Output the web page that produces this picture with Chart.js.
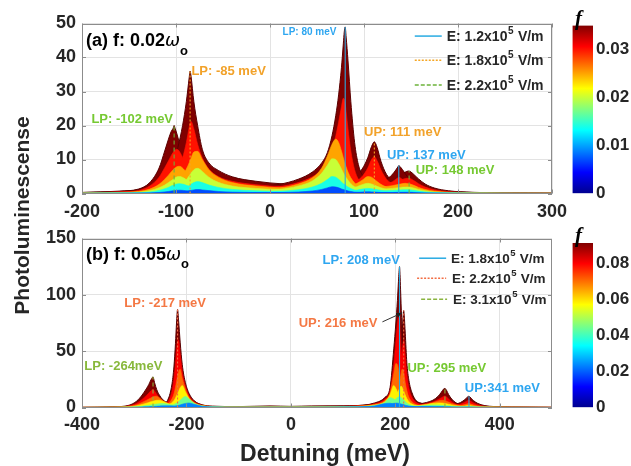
<!DOCTYPE html>
<html>
<head>
<meta charset="utf-8">
<script src="https://cdn.jsdelivr.net/npm/chart.js@4.4.1/dist/chart.umd.min.js"></script>
<style>
  html, body { margin: 0; padding: 0; background: #fff; }
  #fig { position: relative; width: 631px; height: 466px; overflow: hidden; }
  #fig canvas { position: absolute; left: 0; top: 0; }
</style>
</head>
<body>
<div id="fig">
  <canvas id="panelA" width="631" height="466"></canvas>
  <canvas id="panelB" width="631" height="466"></canvas>
  <canvas id="cbarA" width="631" height="466"></canvas>
  <canvas id="cbarB" width="631" height="466"></canvas>
</div>
<script>
// ================= data: panel (a), f = 0.02 w0 =================
const fLevelsA = [0.035, 0.030, 0.025, 0.020, 0.014, 0.007];   // one PL curve per coupling f
const fMaxA = 0.035;
const xTicksA = [-200, -100, 0, 100, 200, 300];
const yTicksA = [0, 10, 20, 30, 40, 50];
const cbarTicksA = [0, 0.01, 0.02, 0.03];
const fieldsA = ['1.2', '1.8', '2.2'];
const peaksA12 = [80, 137];
const peaksA18 = [-85, 111];
const peaksA22 = [-102, 148];

// E = 1.2x10^5 V/m
const detA12 = [-200,-120,-60,-20,10,30,45,55,61,66,70,73,76,78,79,80,81,83,86,90,94,98,103,110,120,128,133,136,137,138,141,146,152,160,175,200,250,300];
const plA12 = [
  [0.2,0.5,1.0,1.7,2.7,4.2,6.3,9.0,12,17,23,29,37,44,47.5,49,46,39,27,15,8.5,5.5,4.0,3.4,3.9,5.0,6.6,7.8,8.2,8.0,7.0,5.0,3.3,2.0,0.95,0.4,0.15,0.06],
  [0.15,0.35,0.7,1.2,2.0,3.2,4.9,7.0,9.5,13,17,21,25.5,28,27.8,26.5,24,19,12.5,7.0,4.2,3.0,2.4,2.1,2.4,3.1,4.0,4.6,4.8,4.7,4.1,3.0,2.0,1.2,0.6,0.25,0.1,0.04],
  [0.1,0.25,0.5,0.9,1.6,2.8,4.6,7.5,11,14.5,16,15,12.5,10.5,9.5,8.6,7.8,6.3,4.6,3.1,2.2,1.7,1.3,1.1,1.2,1.5,1.9,2.2,2.3,2.3,2.1,1.6,1.1,0.7,0.35,0.15,0.05,0.02],
  [0.07,0.17,0.35,0.65,1.2,2.2,3.7,6.0,8.3,10.2,10,8.8,7.2,6.1,5.6,5.1,4.7,3.9,2.9,2.0,1.5,1.1,0.85,0.7,0.75,0.95,1.2,1.35,1.4,1.4,1.3,1.0,0.7,0.45,0.22,0.1,0.04,0.02],
  [0.04,0.1,0.2,0.35,0.65,1.1,1.9,3.0,4.1,5.0,4.8,4.2,3.4,2.9,2.7,2.5,2.3,1.9,1.45,1.0,0.75,0.57,0.44,0.36,0.38,0.47,0.6,0.67,0.7,0.7,0.65,0.5,0.35,0.22,0.11,0.05,0.02,0.01],
  [0.015,0.04,0.08,0.14,0.26,0.45,0.75,1.2,1.65,2.0,1.9,1.7,1.35,1.15,1.08,1.0,0.92,0.76,0.58,0.4,0.3,0.23,0.18,0.14,0.15,0.19,0.24,0.27,0.28,0.28,0.26,0.2,0.14,0.09,0.04,0.02,0.01,0]
];

// E = 1.8x10^5 V/m
const detA18 = [-200,-150,-125,-112,-104,-98,-93,-89,-86,-85,-84,-81,-77,-72,-65,-55,-40,-15,15,45,70,88,98,104,108,111,114,118,124,132,145,165,200,300];
const plA18 = [
  [0.3,0.8,1.8,4.0,7.5,13.5,20,27,34,36,34.5,27,20,13,9,6.8,4.9,3.6,2.8,2.6,3.0,4.5,7.2,10.5,13.8,15.2,13.5,9.5,5.6,3.4,1.9,0.9,0.4,0.1],
  [0.2,0.5,1.1,2.2,4.0,6.8,10.5,15,19.5,20.8,21.2,19,14.5,10.5,7.2,5.0,3.6,2.6,2.0,1.9,2.1,3.1,5.0,7.5,10,10.8,9.6,7.0,4.2,2.6,1.4,0.65,0.3,0.07],
  [0.1,0.3,0.7,1.3,2.2,3.5,5.2,7.2,9.0,9.7,10.4,12.2,12.4,10,7,4.8,3.2,2.2,1.6,1.4,1.6,2.4,3.9,5.0,4.8,4.2,3.5,2.7,1.9,1.3,0.8,0.4,0.2,0.05],
  [0.1,0.2,0.4,0.8,1.3,2.0,2.9,4.0,5.2,5.6,6.0,7.0,7.4,6.5,4.8,3.3,2.2,1.5,1.1,1.0,1.1,1.6,2.6,3.0,2.8,2.5,2.1,1.7,1.2,0.8,0.5,0.3,0.1,0.03],
  [0.05,0.1,0.2,0.4,0.6,0.9,1.3,1.8,2.3,2.5,2.7,3.2,3.5,3.2,2.5,1.8,1.2,0.8,0.6,0.5,0.6,0.8,1.3,1.5,1.4,1.3,1.1,0.9,0.6,0.4,0.3,0.15,0.05,0.02],
  [0.02,0.04,0.07,0.13,0.2,0.3,0.45,0.6,0.8,0.85,0.9,1.05,1.15,1.05,0.85,0.6,0.4,0.27,0.2,0.17,0.2,0.27,0.43,0.5,0.47,0.43,0.37,0.3,0.2,0.14,0.1,0.05,0.02,0.01]
];

// E = 2.2x10^5 V/m
const detA22 = [-200,-160,-140,-128,-118,-112,-108,-105,-103,-102,-101,-99,-96,-92,-87,-80,-70,-55,-30,0,30,60,90,115,130,139,144,147,148,150,153,158,165,175,190,215,260,300];
const plA22 = [
  [0.3,0.7,1.3,3.2,7.5,12.5,16,18.3,19.2,20,19.2,17.5,14.5,11,8.2,5.9,4.4,3.2,2.5,2.2,2.2,2.4,2.9,3.8,4.8,5.7,6.3,6.6,6.6,6.3,5.6,4.3,2.8,1.6,0.8,0.35,0.12,0.06],
  [0.2,0.5,0.9,2.2,4.8,7.6,9.6,11.2,12.1,12.5,12.8,13.0,12.2,10,7.5,5.2,3.6,2.5,1.8,1.5,1.5,1.6,2.0,2.6,3.3,4.0,4.4,4.5,4.5,4.3,3.8,2.9,1.9,1.1,0.55,0.25,0.08,0.04],
  [0.1,0.3,0.6,1.3,2.7,4.2,5.4,6.4,7.0,7.3,7.5,7.9,8.0,7.2,5.7,4.0,2.7,1.8,1.3,1.1,1.0,1.1,1.4,1.8,2.3,2.8,3.0,2.9,2.9,2.7,2.4,1.8,1.2,0.7,0.35,0.15,0.05,0.03],
  [0.07,0.2,0.4,0.85,1.7,2.5,3.2,3.8,4.2,4.4,4.6,4.9,5.0,4.6,3.7,2.7,1.8,1.2,0.85,0.7,0.65,0.7,0.9,1.2,1.5,1.8,1.9,1.9,1.9,1.8,1.6,1.2,0.8,0.45,0.25,0.1,0.04,0.02],
  [0.04,0.12,0.23,0.45,0.9,1.4,1.8,2.2,2.4,2.5,2.65,2.8,2.9,2.7,2.2,1.6,1.05,0.7,0.5,0.4,0.38,0.4,0.52,0.7,0.87,1.05,1.1,1.1,1.1,1.05,0.93,0.7,0.46,0.26,0.15,0.06,0.02,0.01],
  [0.01,0.04,0.08,0.15,0.3,0.47,0.6,0.73,0.8,0.83,0.88,0.93,0.97,0.9,0.73,0.53,0.35,0.23,0.17,0.13,0.13,0.13,0.17,0.23,0.29,0.35,0.37,0.37,0.37,0.35,0.31,0.23,0.15,0.09,0.05,0.02,0.01,0]
];

// ================= data: panel (b), f = 0.05 w0 =================
const fLevelsB = [0.091, 0.080, 0.070, 0.058, 0.044, 0.023];
const fMaxB = 0.091;
const xTicksB = [-400, -200, 0, 200, 400];
const yTicksB = [0, 50, 100, 150];
const cbarTicksB = [0, 0.02, 0.04, 0.06, 0.08];
const fieldsB = ['1.8', '2.2', '3.1'];
const peaksB18 = [208, 341];
const peaksB22 = [-217, 216];
const peaksB31 = [-264, 295];

// E = 1.8x10^5 V/m
const detB18 = [-400,-200,-50,50,120,160,180,190,197,201,204,206,207,208,209,210,212,215,219,225,235,250,280,310,325,333,338,340,341,342,345,350,358,370,390,420,500];
const plB18 = [
  [0.05,0.2,0.5,0.8,1.5,4,9,18,52,75,95,112,120,125,118,105,80,52,30,16,7.5,3.8,2.0,2.6,4.5,7,9.2,9.9,10,9.7,8.3,6,3.6,1.8,0.8,0.35,0.1],
  [0.04,0.15,0.35,0.6,1.2,3.3,7.5,15,38,58,74,80,78,74,67,59,45,30,18,10,5,2.6,1.4,1.8,3.0,4.6,6,6.4,6.5,6.3,5.4,4,2.4,1.2,0.55,0.25,0.07],
  [0.03,0.1,0.25,0.45,1.0,2.7,6.2,13,30,39,38,34,31,28,25,22,17,12,8,5,2.8,1.5,0.8,1.0,1.7,2.6,3.3,3.5,3.6,3.5,3.0,2.3,1.4,0.7,0.32,0.15,0.04],
  [0.02,0.07,0.18,0.33,0.8,2.2,5.2,11.5,19.5,17,14,12,11,10,9.2,8.4,7,5.4,3.9,2.6,1.5,0.8,0.45,0.55,0.9,1.3,1.7,1.8,1.8,1.8,1.6,1.2,0.75,0.38,0.18,0.08,0.02],
  [0.01,0.05,0.12,0.22,0.6,1.8,4.5,8.8,7.5,6,5,4.4,4.1,3.8,3.6,3.3,2.9,2.4,1.8,1.3,0.8,0.45,0.25,0.3,0.45,0.65,0.8,0.85,0.86,0.85,0.75,0.6,0.38,0.2,0.1,0.04,0.01],
  [0.01,0.02,0.06,0.12,0.4,1.4,3.5,3.8,2.8,2.3,2.0,1.8,1.7,1.6,1.5,1.4,1.25,1.05,0.85,0.6,0.4,0.22,0.12,0.14,0.2,0.28,0.34,0.36,0.36,0.36,0.32,0.26,0.17,0.09,0.04,0.02,0.01]
];

// E = 2.2x10^5 V/m
const detB22 = [-400,-300,-260,-245,-235,-228,-224,-221,-219,-217,-215,-212,-208,-202,-195,-185,-170,-150,-100,-40,0,40,100,150,180,195,203,208,211,213,215,216,217,219,222,226,232,240,255,280,320,400,500];
const plB22 = [
  [0.1,0.5,1.5,3.0,7.5,20,36,57,75,87,77,58,38,22,12.5,6,2.5,1.2,0.8,1.4,1.0,1.4,1.5,2.5,5,11,22,36,52,66,82,86,82,66,40,24,13,6,2.2,1.2,0.5,0.2,0.1],
  [0.08,0.35,1.1,2.2,5.5,14,25,39,51,59,60,48,32,19,10.5,5,2.1,1.0,0.6,1.0,0.8,1.0,1.1,1.9,3.8,8.5,17,28,40,50,58,60,57,46,30,17,9,4.5,1.7,0.8,0.35,0.15,0.07],
  [0.06,0.25,0.8,1.6,3.5,7.5,12,18,23,28,32,34,26,16.5,9,4.3,1.8,0.85,0.45,0.7,0.6,0.7,0.8,1.5,3.0,7,14,22,30,34,33,31,28,22,15,9,5,2.6,1.1,0.5,0.22,0.1,0.05],
  [0.04,0.17,0.55,1.1,2.2,4.2,6.2,8.5,10.5,12.5,14.5,17.5,19.5,14,8,3.8,1.5,0.7,0.35,0.5,0.45,0.5,0.6,1.1,2.4,5.8,11.5,17,19,18,16,15,13.5,11,8,5.2,3,1.7,0.7,0.3,0.14,0.06,0.03],
  [0.03,0.1,0.3,0.6,1.1,1.9,2.6,3.3,3.9,4.5,5.2,6.4,8.2,9.8,7.5,3.8,1.4,0.6,0.25,0.35,0.3,0.35,0.45,0.9,2.0,4.8,8.5,9.5,8.8,8,7.2,6.8,6.3,5.3,4,2.8,1.7,1,0.45,0.2,0.1,0.04,0.02],
  [0.01,0.04,0.12,0.25,0.45,0.75,1.0,1.25,1.45,1.65,1.9,2.3,2.9,3.6,4.0,2.8,1.1,0.45,0.15,0.2,0.18,0.2,0.3,0.6,1.8,3.6,3.9,3.5,3.1,2.9,2.7,2.6,2.4,2.1,1.7,1.3,0.9,0.55,0.25,0.1,0.05,0.02,0.01]
];

// E = 3.1x10^5 V/m
const detB31 = [-400,-340,-310,-295,-285,-277,-272,-268,-266,-265,-264,-263,-261,-257,-252,-245,-235,-220,-190,-120,0,120,200,240,260,272,282,288,292,294,295,296,298,302,308,316,328,345,370,420,500];
const plB31 = [
  [0.1,0.6,2.0,5.8,11,16.5,20.5,24.5,26,26.8,27.2,26,22,16,11.2,6.8,4,2.3,1.1,0.5,0.4,0.6,1.3,2.8,4.5,6.5,10,13.5,16.2,16.8,17,16.6,15.3,11.5,7.5,4.2,2.3,1.4,0.8,0.35,0.12],
  [0.07,0.45,1.5,3.8,7.2,10.5,12.8,14.8,15.6,16,16,15.8,14.5,11.8,8.6,5.5,3.2,1.8,0.85,0.4,0.3,0.45,1.0,2.1,3.6,5.0,7.0,8.6,9.8,10.1,10.2,10.0,9.4,7.6,5.2,3.0,1.7,1.0,0.6,0.25,0.08],
  [0.05,0.3,1.0,2.5,4.5,6.3,7.5,8.5,9,9.2,9.4,9.6,9.9,10,8.6,6,3.5,1.8,0.8,0.35,0.25,0.35,0.8,1.7,3.0,4.3,5.8,6.4,6.4,6.2,6.1,6.0,5.6,4.8,3.6,2.4,1.4,0.85,0.45,0.18,0.06],
  [0.03,0.2,0.6,1.5,2.7,3.8,4.5,5.1,5.4,5.5,5.6,5.8,6.0,6.4,6.5,5.5,3.5,1.7,0.7,0.3,0.2,0.3,0.65,1.4,2.6,3.7,4.1,4.0,3.8,3.7,3.6,3.5,3.3,2.9,2.3,1.6,1.0,0.55,0.3,0.12,0.04],
  [0.02,0.1,0.3,0.7,1.2,1.7,2.0,2.3,2.4,2.5,2.55,2.6,2.8,3.1,3.4,3.5,2.9,1.6,0.6,0.22,0.14,0.22,0.5,1.2,2.0,2.3,2.2,2.0,1.9,1.85,1.8,1.75,1.65,1.45,1.2,0.85,0.55,0.3,0.16,0.07,0.02],
  [0.01,0.04,0.12,0.28,0.45,0.65,0.75,0.85,0.9,0.92,0.95,0.97,1.03,1.15,1.3,1.45,1.5,1.2,0.45,0.15,0.08,0.15,0.35,0.9,1.0,0.95,0.9,0.85,0.8,0.78,0.77,0.75,0.7,0.62,0.52,0.38,0.25,0.14,0.07,0.03,0.01]
];

// ================= look =================
const FONT = '"Liberation Sans", Arial, Helvetica, sans-serif';
const INK = '#262626';
const GRID = '#e3e3e3';
const FRAME = '#8c8c8c';
const C_BLUE = '#29abe2', C_ORANGE = '#f5a623', C_GREEN = '#6cb33a';
const C_ORED = '#f26d43', C_OLIVE = '#8ab43f';
const T_BLUE = '#2ea6f0', T_ORANGE = '#f2a22a', T_GREEN = '#76c932';
const T_ORED = '#f47844', T_OLIVE = '#88b83c';

Chart.defaults.font.family = FONT;
Chart.defaults.color = INK;

// MATLAB-style jet colormap
const JET_STOPS = [[0, '#00008f'], [0.125, '#0000ff'], [0.375, '#00ffff'], [0.625, '#ffff00'], [0.875, '#ff0000'], [1, '#800000']];
function jet(t) {
  const k = v => Math.round(255 * Math.max(0, Math.min(1, v)));
  const r = t < 3/8 ? 0 : t < 5/8 ? (t - 3/8) * 4 : t < 7/8 ? 1 : 1 - (t - 7/8) * 4;
  const g = t < 1/8 ? 0 : t < 3/8 ? (t - 1/8) * 4 : t < 5/8 ? 1 : t < 7/8 ? 1 - (t - 5/8) * 4 : 0;
  const b = t < 1/8 ? 0.5 + t * 4 : t < 3/8 ? 1 : t < 5/8 ? 1 - (t - 3/8) * 4 : 0;
  return `rgb(${k(r)},${k(g)},${k(b)})`;
}

// filled PL curves of one field strength; larger f sits further back
function layerSets(xs, rows, fLevels, fMax, fam) {
  return rows.map((ys, li) => {
    const col = jet(fLevels[li] / fMax);
    return {
      data: xs.map((x, i) => ({ x, y: ys[i] })),
      backgroundColor: col,
      borderColor: li === 0 ? '#5a0000' : col,
      borderWidth: li === 0 ? 1 : 0.6,
      fill: 'origin',
      pointRadius: 0,
      cubicInterpolationMode: 'monotone',
      order: (rows.length - li) * 10 + fam
    };
  });
}

// vertical marker from the axis up to the curve at each polariton peak
function peakLines(xs, rows, peaks, color, dash) {
  return peaks.map(p => ({
    data: [{ x: p, y: 0 }, { x: p, y: rows[0][xs.indexOf(p)] }],
    borderColor: color, borderWidth: 1.1, borderDash: dash,
    fill: false, pointRadius: 0, order: -1
  }));
}

function text(ctx, str, x, yc, size, color, align, font) {
  ctx.font = font || `bold ${size}px ${FONT}`;
  ctx.fillStyle = color;
  ctx.textAlign = align || 'left';
  ctx.textBaseline = 'alphabetic';
  ctx.fillText(str, x, yc + size * 0.36);
  return ctx.measureText(str).width;
}

const decorPlugin = {
  id: 'decor',
  afterDatasetsDraw(chart, args, o) {
    const { ctx, chartArea: a, scales: { x, y } } = chart;
    ctx.save();
    // frame and inward tick marks
    ctx.strokeStyle = FRAME;
    ctx.lineWidth = 1;
    ctx.beginPath();
    o.xTicks.forEach(v => {
      const px = Math.round(x.getPixelForValue(v)) + 0.5;
      ctx.moveTo(px, a.bottom); ctx.lineTo(px, a.bottom - 4);
      ctx.moveTo(px, a.top); ctx.lineTo(px, a.top + 4);
    });
    o.yTicks.forEach(v => {
      const py = Math.round(y.getPixelForValue(v)) + 0.5;
      ctx.moveTo(a.left, py); ctx.lineTo(a.left + 4, py);
      ctx.moveTo(a.right, py); ctx.lineTo(a.right - 4, py);
    });
    ctx.stroke();
    ctx.strokeRect(Math.round(a.left) + 0.5, Math.round(a.top) + 0.5, Math.round(a.width) - 1, Math.round(a.height) - 1);

    // panel title
    let tx = a.left + 4;
    const ty = a.top + o.titleDy;
    tx += text(ctx, o.title, tx, ty, 18, '#000');
    tx += text(ctx, '\u03c9', tx, ty, 18, '#000', 'left', `italic 18px "DejaVu Sans", sans-serif`);
    text(ctx, 'o', tx, ty + 10, 13, '#000');

    // peak labels
    o.notes.forEach(n => {
      text(ctx, n.text, x.getPixelForValue(n.x), y.getPixelForValue(n.y), n.size, n.color, n.align);
    });

    // pointer from a label to its peak
    if (o.arrow) {
      const x0 = x.getPixelForValue(o.arrow[0]), y0 = y.getPixelForValue(o.arrow[1]);
      const x1 = x.getPixelForValue(o.arrow[2]), y1 = y.getPixelForValue(o.arrow[3]);
      const ang = Math.atan2(y1 - y0, x1 - x0);
      ctx.strokeStyle = '#333'; ctx.fillStyle = '#222'; ctx.lineWidth = 1;
      ctx.beginPath(); ctx.moveTo(x0, y0); ctx.lineTo(x1, y1); ctx.stroke();
      ctx.beginPath();
      ctx.moveTo(x1, y1);
      ctx.lineTo(x1 - 6 * Math.cos(ang - 0.4), y1 - 6 * Math.sin(ang - 0.4));
      ctx.lineTo(x1 - 6 * Math.cos(ang + 0.4), y1 - 6 * Math.sin(ang + 0.4));
      ctx.closePath(); ctx.fill();
    }

    // legend: line sample + field strength
    const ls = o.legendSize;
    o.legend.forEach(r => {
      const ly = y.getPixelForValue(r.y);
      ctx.strokeStyle = r.color; ctx.lineWidth = 1.5; ctx.setLineDash(r.dash);
      ctx.beginPath(); ctx.moveTo(x.getPixelForValue(r.x0), ly); ctx.lineTo(x.getPixelForValue(r.x1), ly); ctx.stroke();
      ctx.setLineDash([]);
      let lx = x.getPixelForValue(r.tx);
      lx += text(ctx, `E: ${r.field}x10`, lx, ly, ls, INK);
      lx += text(ctx, '5', lx + 0.5, ly - 6, ls - 4, INK) + 1;
      text(ctx, ' V/m', lx, ly, ls, INK);
    });

    // shared axis titles
    if (o.yTitle) {
      ctx.save();
      ctx.translate(21.5, 215.5);
      ctx.rotate(-Math.PI / 2);
      text(ctx, o.yTitle, 0, 0, 21, INK, 'center');
      ctx.restore();
    }
    if (o.xTitle) text(ctx, o.xTitle, 325, 453, 23, INK, 'center');
    ctx.restore();
  }
};

function panel(id, c) {
  return new Chart(document.getElementById(id), {
    type: 'line',
    data: { datasets: c.datasets },
    options: {
      responsive: false, animation: false, events: [],
      layout: { padding: c.padding },
      scales: {
        x: {
          type: 'linear', min: c.xMin, max: c.xMax,
          afterBuildTicks: s => { s.ticks = c.xTicks.map(v => ({ value: v })); },
          afterFit: s => { s.height = 30; },
          grid: { color: GRID, drawTicks: false },
          border: { display: false },
          ticks: { padding: c.xPad, autoSkip: false, maxRotation: 0, color: INK, font: { size: 18, weight: 'bold' } }
        },
        y: {
          type: 'linear', min: c.yMin, max: c.yMax,
          afterBuildTicks: s => { s.ticks = c.yTicks.map(v => ({ value: v })); },
          afterFit: s => { s.width = 50; },
          grid: { color: GRID, drawTicks: false },
          border: { display: false },
          ticks: { padding: 6, autoSkip: false, color: INK, font: { size: 18, weight: 'bold' } }
        }
      },
      plugins: { legend: { display: false }, tooltip: { enabled: false }, decor: c.decor }
    },
    plugins: [decorPlugin]
  });
}

const cbarTitlePlugin = {
  id: 'cbarTitle',
  afterDraw(chart) {
    const { ctx, chartArea: a } = chart;
    ctx.save();
    text(ctx, 'f', a.left + 6, a.top - 8, 20, '#000', 'center', `italic bold 21px "Liberation Serif", "DejaVu Serif", serif`);
    ctx.restore();
  }
};

function colorbar(id, c) {
  return new Chart(document.getElementById(id), {
    type: 'bar',
    data: {
      labels: ['f'],
      datasets: [{
        data: [c.fMax],
        borderWidth: 0, barPercentage: 1, categoryPercentage: 1,
        backgroundColor: ctx => {
          const a = ctx.chart.chartArea;
          if (!a) return '#800000';
          const g = ctx.chart.ctx.createLinearGradient(0, a.bottom, 0, a.top);
          JET_STOPS.forEach(([s, col]) => g.addColorStop(s, col));
          return g;
        }
      }]
    },
    options: {
      responsive: false, animation: false, events: [],
      layout: { padding: c.padding },
      scales: {
        x: { display: false },
        y: {
          position: 'right', min: 0, max: c.fMax,
          afterBuildTicks: s => { s.ticks = c.ticks.map(v => ({ value: v })); },
          afterFit: s => { s.width = 38; },
          grid: { display: false, drawTicks: false },
          border: { display: false },
          ticks: { padding: 3, color: INK, font: { size: 17, weight: 'bold' }, callback: v => v === 0 ? '0' : v.toFixed(2) }
        }
      },
      plugins: { legend: { display: false }, tooltip: { enabled: false } }
    },
    plugins: [cbarTitlePlugin]
  });
}

// ---------- panel (a) ----------
panel('panelA', {
  xMin: -200, xMax: 300, yMin: 0, yMax: 50, xTicks: xTicksA, yTicks: yTicksA, xPad: 8,
  padding: { left: 32, right: 79, top: 23.5, bottom: 242.5 },
  datasets: [
    ...layerSets(detA12, plA12, fLevelsA, fMaxA, 0),
    ...layerSets(detA18, plA18, fLevelsA, fMaxA, 1),
    ...layerSets(detA22, plA22, fLevelsA, fMaxA, 2),
    ...peakLines(detA12, plA12, peaksA12, C_BLUE, []),
    ...peakLines(detA18, plA18, peaksA18, C_ORANGE, [2, 2]),
    ...peakLines(detA22, plA22, peaksA22, C_GREEN, [4, 3])
  ],
  decor: {
    xTicks: xTicksA, yTicks: yTicksA,
    title: '(a) f: 0.02', titleDy: 16.5,
    yTitle: 'Photoluminescense',
    notes: [
      { text: `LP: ${peaksA12[0]} meV`, x: 42, y: 47.8, size: 10, color: T_BLUE, align: 'center' },
      { text: `LP: ${peaksA18[0]} meV`, x: -83.6, y: 36.3, size: 13, color: T_ORANGE },
      { text: `LP: ${peaksA22[0]} meV`, x: -190, y: 22.1, size: 13, color: T_GREEN },
      { text: `UP: ${peaksA18[1]} meV`, x: 100, y: 18.3, size: 13, color: T_ORANGE },
      { text: `UP: ${peaksA12[1]} meV`, x: 124.5, y: 11.6, size: 13, color: T_BLUE },
      { text: `UP: ${peaksA22[1]} meV`, x: 155, y: 7.06, size: 13, color: T_GREEN }
    ],
    legendSize: 14,
    legend: [
      { field: fieldsA[0], color: C_BLUE, dash: [], x0: 154, x1: 182.7, tx: 188, y: 46.3 },
      { field: fieldsA[1], color: C_ORANGE, dash: [2, 1.5], x0: 154, x1: 182.7, tx: 188, y: 39.2 },
      { field: fieldsA[2], color: C_GREEN, dash: [4, 2], x0: 154, x1: 182.7, tx: 188, y: 31.9 }
    ]
  }
});

// ---------- panel (b) ----------
panel('panelB', {
  xMin: -400, xMax: 500, yMin: 0, yMax: 150, xTicks: xTicksB, yTicks: yTicksB, xPad: 7,
  padding: { left: 32, right: 79, top: 238.5, bottom: 28.5 },
  datasets: [
    ...layerSets(detB18, plB18, fLevelsB, fMaxB, 0),
    ...layerSets(detB22, plB22, fLevelsB, fMaxB, 1),
    ...layerSets(detB31, plB31, fLevelsB, fMaxB, 2),
    ...peakLines(detB18, plB18, peaksB18, C_BLUE, []),
    ...peakLines(detB22, plB22, peaksB22, C_ORED, [2, 2]),
    ...peakLines(detB31, plB31, peaksB31, C_OLIVE, [4, 3])
  ],
  decor: {
    xTicks: xTicksB, yTicks: yTicksB,
    title: '(b) f: 0.05', titleDy: 15,
    xTitle: 'Detuning (meV)',
    notes: [
      { text: `LP: ${peaksB18[0]} meV`, x: 60.5, y: 131.4, size: 13, color: T_BLUE },
      { text: `LP: ${peaksB22[0]} meV`, x: -319, y: 93.7, size: 13, color: T_ORED },
      { text: `LP: ${peaksB31[0]}meV`, x: -395.6, y: 37.5, size: 13, color: T_OLIVE },
      { text: `UP: ${peaksB22[1]} meV`, x: 165.7, y: 76, size: 13, color: T_ORED, align: 'right' },
      { text: `UP: ${peaksB31[1]} meV`, x: 223.2, y: 35.5, size: 13, color: T_GREEN },
      { text: `UP:${peaksB18[1]} meV`, x: 333, y: 17.75, size: 13, color: T_BLUE }
    ],
    arrow: [175.3, 76, 213, 84],
    legendSize: 13.5,
    legend: [
      { field: fieldsB[0], color: C_BLUE, dash: [], x0: 245.6, x1: 297.3, tx: 306.8, y: 132.5 },
      { field: fieldsB[1], color: C_ORED, dash: [2, 1.5], x0: 241.7, x1: 297.3, tx: 308.7, y: 114.8 },
      { field: fieldsB[2], color: C_OLIVE, dash: [4, 2], x0: 249.4, x1: 299.1, tx: 310.6, y: 96.1 }
    ]
  }
});

// ---------- colour bars ----------
colorbar('cbarA', { fMax: fMaxA, ticks: cbarTicksA, padding: { left: 572.5, right: 0, top: 25.5, bottom: 272.7 } });
colorbar('cbarB', { fMax: fMaxB, ticks: cbarTicksB, padding: { left: 572.5, right: 0, top: 243, bottom: 58.7 } });
</script>
</body>
</html>
